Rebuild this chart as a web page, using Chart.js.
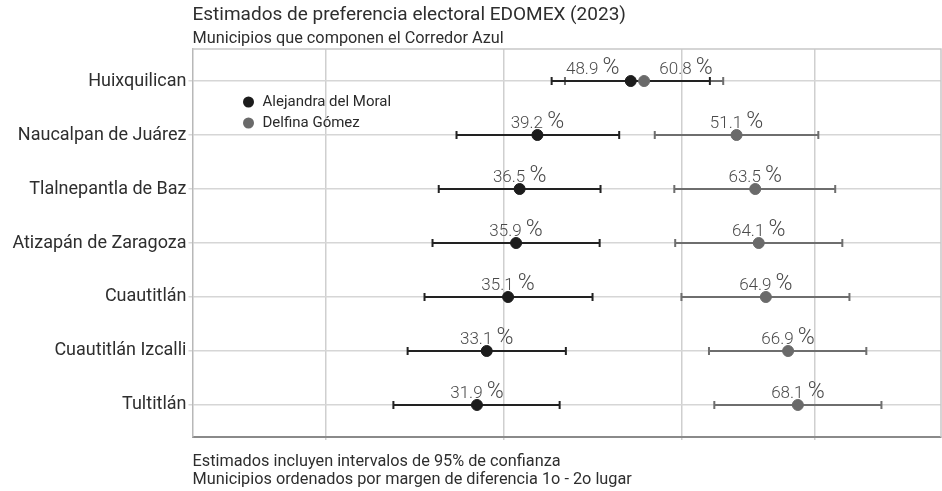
<!DOCTYPE html>
<html>
<head>
<meta charset="utf-8">
<script src="https://cdn.jsdelivr.net/npm/chart.js@4.4.1/dist/chart.umd.min.js"></script>
<style>
  html, body { margin: 0; padding: 0; background: #fff; }
  #wrap { width: 942px; height: 491px; position: relative; }
</style>
</head>
<body>
<div id="wrap"><canvas id="grafica" width="942" height="491"></canvas></div>
<script>
// --- Datos ---
const municipios = ['Huixquilican', 'Naucalpan de Juárez', 'Tlalnepantla de Baz', 'Atizapán de Zaragoza', 'Cuautitlán', 'Cuautitlán Izcalli', 'Tultitlán'];

const moralEst  = [49.3, 38.8, 36.8, 36.4, 35.5, 33.1, 32.0];
const moralLow  = [40.4, 29.7, 27.7, 27.0, 26.1, 24.2, 22.6];
const moralHigh = [58.2, 48.0, 45.9, 45.8, 45.0, 42.0, 41.3];

const gomezEst  = [50.8, 61.2, 63.3, 63.7, 64.5, 67.0, 68.1];
const gomezLow  = [41.9, 52.0, 54.2, 54.3, 55.0, 58.1, 58.7];
const gomezHigh = [59.7, 70.4, 72.3, 73.1, 73.9, 75.8, 77.5];

// etiquetas tal como aparecen en la gráfica
const moralLabels = ['48.9', '39.2', '36.5', '35.9', '35.1', '33.1', '31.9'];
const gomezLabels = ['60.8', '51.1', '63.5', '64.1', '64.9', '66.9', '68.1'];

const gridValues = [15, 35, 55, 70];

const titulo = 'Estimados de preferencia electoral EDOMEX (2023)';
const subtitulo = 'Municipios que componen el Corredor Azul';
const notas = ['Estimados incluyen intervalos de 95% de confianza', 'Municipios ordenados por margen de diferencia 1o - 2o lugar'];

const FONT = 'Roboto, "Open Sans", sans-serif';
const NEGRO = '#1c1c1c';
const GRIS = '#6a6a6a';

// desplazamiento de etiquetas (px) para evitar que se encimen en la primera fila
const moralLabelShift = [-38, 0, 0, 0, 0, 0, 0];
const gomezLabelShift = [42, 0, 0, 0, 0, 0, 0];

const series = [
    { est: gomezEst, low: gomezLow, high: gomezHigh, labels: gomezLabels, shift: gomezLabelShift, color: GRIS, bar: '#6e6e6e' },
    { est: moralEst, low: moralLow, high: moralHigh, labels: moralLabels, shift: moralLabelShift, color: NEGRO, bar: '#222' }
];

// --- Plugin: barras de error, etiquetas, leyenda, títulos ---
const extras = {
    id: 'extras',
    beforeDatasetsDraw(chart) {
        const { ctx, chartArea: a, scales: { x, y } } = chart;
        ctx.save();
        // marco superior y derecho
        ctx.strokeStyle = '#c8c8c8';
        ctx.lineWidth = 1.5;
        ctx.beginPath();
        ctx.moveTo(a.left, a.top); ctx.lineTo(a.right, a.top); ctx.lineTo(a.right, a.bottom);
        ctx.stroke();

        series.forEach(s => {
            ctx.strokeStyle = s.bar;
            ctx.lineWidth = 2;
            s.est.forEach((v, i) => {
                const py = y.getPixelForValue(i);
                const x1 = x.getPixelForValue(s.low[i]);
                const x2 = x.getPixelForValue(s.high[i]);
                ctx.beginPath();
                ctx.moveTo(x1, py); ctx.lineTo(x2, py);
                ctx.moveTo(x1, py - 4); ctx.lineTo(x1, py + 4);
                ctx.moveTo(x2, py - 4); ctx.lineTo(x2, py + 4);
                ctx.stroke();
            });
        });
        ctx.restore();
    },
    afterDatasetsDraw(chart) {
        const { ctx, chartArea: a, scales: { x, y } } = chart;
        ctx.save();
        ctx.textBaseline = 'alphabetic';
        ctx.textAlign = 'left';
        series.forEach(s => {
            s.est.forEach((v, i) => {
                const cx = x.getPixelForValue(v) + s.shift[i];
                const py = y.getPixelForValue(i) - 7;
                ctx.font = '300 17px ' + FONT;
                const nw = ctx.measureText(s.labels[i] + ' ').width;
                ctx.font = '300 23px ' + FONT;
                const pw = ctx.measureText('%').width;
                const x0 = cx - (nw + pw) / 2;
                ctx.fillStyle = '#4a4a4a';
                ctx.font = '300 17px ' + FONT;
                ctx.fillText(s.labels[i], x0, py);
                ctx.font = '300 23px ' + FONT;
                ctx.fillText('%', x0 + nw, py);
            });
        });

        // leyenda
        const leyenda = [['Alejandra del Moral', NEGRO], ['Delfina Gómez', GRIS]];
        ctx.textBaseline = 'middle';
        ctx.font = '15px ' + FONT;
        leyenda.forEach(([txt, col], k) => {
            const ly = a.top + 53 + k * 21;
            ctx.fillStyle = col;
            ctx.beginPath();
            ctx.arc(a.left + 56, ly, 5.5, 0, Math.PI * 2);
            ctx.fill();
            ctx.fillStyle = '#2a2a2a';
            ctx.fillText(txt, a.left + 70, ly);
        });

        // títulos y notas
        ctx.fillStyle = '#2e2e2e';
        ctx.textBaseline = 'alphabetic';
        ctx.font = '19px ' + FONT;
        ctx.fillText(titulo, a.left, 20);
        ctx.font = '16.3px ' + FONT;
        ctx.fillText(subtitulo, a.left, 43);
        ctx.font = '16.3px ' + FONT;
        notas.forEach((n, k) => ctx.fillText(n, a.left, 466 + k * 18));
        ctx.restore();
    }
};

const ctx = document.getElementById('grafica').getContext('2d');
const chart = new Chart(ctx, {
    type: 'scatter',
    data: {
        datasets: [
            {
                label: 'Delfina Gómez',
                data: gomezEst.map((v, i) => ({ x: v, y: i })),
                backgroundColor: GRIS,
                borderColor: GRIS,
                pointRadius: 5.5,
                pointHoverRadius: 5.5
            },
            {
                label: 'Alejandra del Moral',
                data: moralEst.map((v, i) => ({ x: v, y: i })),
                backgroundColor: NEGRO,
                borderColor: NEGRO,
                pointRadius: 5.5,
                pointHoverRadius: 5.5
            }
        ]
    },
    options: {
        responsive: false,
        animation: false,
        layout: { autoPadding: false, padding: { top: 49, bottom: 51, right: 1, left: 0 } },
        plugins: {
            legend: { display: false },
            tooltip: { enabled: false }
        },
        scales: {
            x: {
                type: 'linear',
                min: 0,
                max: 84.2,
                afterBuildTicks: (scale) => { scale.ticks = gridValues.map(v => ({ value: v })); },
                ticks: { display: false },
                grid: { color: '#cfcfcf', lineWidth: 1.5, tickLength: 3 },
                border: { color: '#8a8a8a', width: 2 }
            },
            y: {
                type: 'linear',
                reverse: true,
                min: -0.593,
                max: 6.593,
                afterBuildTicks: (scale) => { scale.ticks = municipios.map((m, i) => ({ value: i })); },
                afterFit: (scale) => { scale.width = 192.5; },
                ticks: {
                    color: '#2e2e2e',
                    font: { family: FONT, size: 18 },
                    padding: 2,
                    callback: (v) => municipios[v]
                },
                grid: { color: '#d6d6d6', lineWidth: 1.5, tickLength: 4 },
                border: { color: '#b8b8b8', width: 1.5 }
            }
        }
    },
    plugins: [extras]
});
</script>
</body>
</html>
